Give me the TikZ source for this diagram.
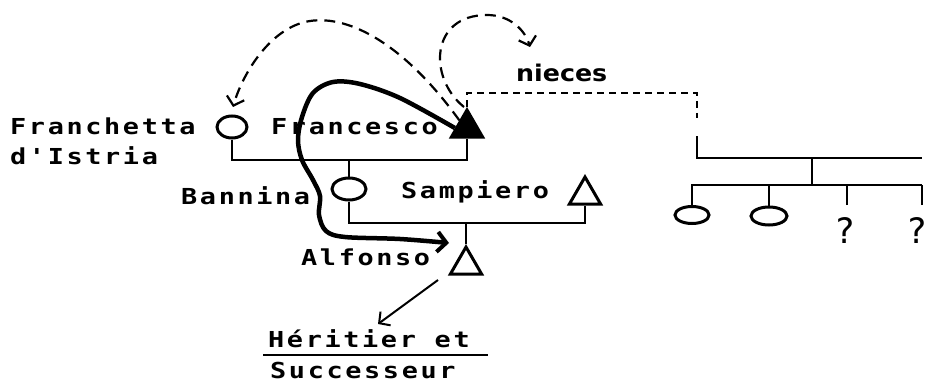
\documentclass[tikz,border=0pt]{standalone}
\usepackage{fontspec}
\usetikzlibrary{arrows.meta,shapes.geometric}
\newfontfamily\tfont{DejaVu Sans Mono Bold}[FakeStretch=1.22,LetterSpace=12]
\newfontfamily\qfont{DejaVu Sans Mono}
\newfontfamily\nfont{DejaVu Sans}[FakeStretch=1.1]
\begin{document}
\begin{tikzpicture}[x=1pt,y=-1pt,
  lbl/.style={font={\fontsize{22pt}{26pt}\tfont}, anchor=base west, inner sep=0pt},
  qlbl/.style={font={\fontsize{35pt}{38pt}\qfont}, anchor=base, inner sep=0pt},
  nlbl/.style={font={\fontsize{23pt}{26pt}\nfont\bfseries}, anchor=base west, inner sep=0pt},
  tree/.style={line width=2.8pt},
  fem/.style={ellipse, draw, line width=3pt, minimum width=30pt, minimum height=22pt, inner sep=0pt},
  male/.style={regular polygon, regular polygon sides=3, draw, line width=3pt, minimum size=36pt, inner sep=0pt},
  dsh/.style={line width=2.4pt, dash pattern=on 7pt off 5pt},
  dcurve/.style={line width=2.2pt, dash pattern=on 11pt off 7pt, -{Straight Barb[length=8pt,width=18pt,line width=2.2pt]}},
  heavy/.style={line width=4.5pt, -{Straight Barb[length=9pt,width=20pt,line width=4pt]}},
  thinarrow/.style={line width=2pt, -{Straight Barb[length=8pt,width=17pt]}}
]
\useasboundingbox (0,0) rectangle (928,385);

% symbols
\node[fem] (franchetta) at (232,127) {};
\node[male, fill=black] (francesco) at (467,128) {};
\node[fem, minimum width=34pt] (bannina) at (349,189) {};
\node[male] (sampiero) at (585,195) {};
\node[male] (alfonso) at (466,265) {};
\node[fem, minimum width=34pt, minimum height=17pt] (n1) at (692,215) {};
\node[fem, minimum width=36pt, minimum height=18pt] (n2) at (769,216) {};
\node[qlbl] (q1) at (845,243) {?};
\node[qlbl] (q2) at (917,243) {?};

% labels
\node[lbl] (tFranchetta) at (10,135) {Franchetta};
\node[lbl] (tIstria) at (10,164) {d'Istria};
\node[lbl] (tFrancesco) at (271,135) {Francesco};
\node[lbl] (tBannina) at (181,204) {Bannina};
\node[lbl] (tSampiero) at (401,198) {Sampiero};
\node[lbl] (tAlfonso) at (301,265) {Alfonso};
\node[lbl] (tHeritier) at (268,347) {Héritier et};
\node[lbl] (tSucc) at (270,378) {Successeur};
\node[nlbl] (tNieces) at (516,82) {nieces};

% tree lines
\coordinate (m1) at (349,160);
\draw[tree] (franchetta.south) |- (m1) -| (francesco.side 2);
\draw[tree] (m1) -- (bannina.north);
\coordinate (m2) at (466,223);
\draw[tree] (bannina.south) |- (m2) -| (sampiero.side 2);
\draw[tree] (m2) -- (alfonso.corner 1);

% nieces link
\coordinate (nt) at (697,93);
\coordinate (ne) at (697,118);
\draw[dsh] (francesco.corner 1) |- (nt) -- (ne);
\coordinate (s0) at (697,136);
\coordinate (m3) at (812,158);
\coordinate (rr) at (922,158);
\draw[tree] (s0) |- (m3) -- (rr);
\coordinate (m4) at (812,185);
\draw[tree] (m3) -- (m4);
\coordinate (sL) at (692,185);
\coordinate (sR) at (922,185);
\draw[tree] (n1.north) -- (sL) -- (sR);
\draw[tree] (n2.north) -- (n2.north |- sL);
\coordinate (q1t) at (847,205);
\coordinate (q2t) at (922,205);
\draw[tree] (q1t) -- (q1t |- sL);
\draw[tree] (q2t) -- (sR);

% dashed curves
\coordinate (fTip) at (233,107);
\draw[dcurve] (francesco.north west) .. controls (405,45) and (350,15) .. (310,21) .. controls (270,27) and (242,75) .. (fTip);
\coordinate (nTip) at (530,47);
\draw[dcurve] ([xshift=-3pt]francesco.corner 1) .. controls (428,78) and (430,15) .. (487,15) .. controls (510,15) and (525,30) .. (nTip);

% heavy curve
\coordinate (aTip) at (449,243);
\draw[heavy] plot[smooth, tension=0.55] coordinates {(francesco.west) (400,98) (360,84) (333,82) (313,93) (302,117) (298,140) (302,160) (313,180) (320,196) (319,215) (326,231) (345,237) (400,239) (aTip)};

% heir arrow
\coordinate (h1) at (438,280);
\coordinate (h2) at (378,324);
\draw[thinarrow] (h1) -- (h2);
\coordinate (u1) at (263,355);
\coordinate (u2) at (488,355);
\draw[line width=2.2pt] (u1) -- (u2);
\end{tikzpicture}
\end{document}
